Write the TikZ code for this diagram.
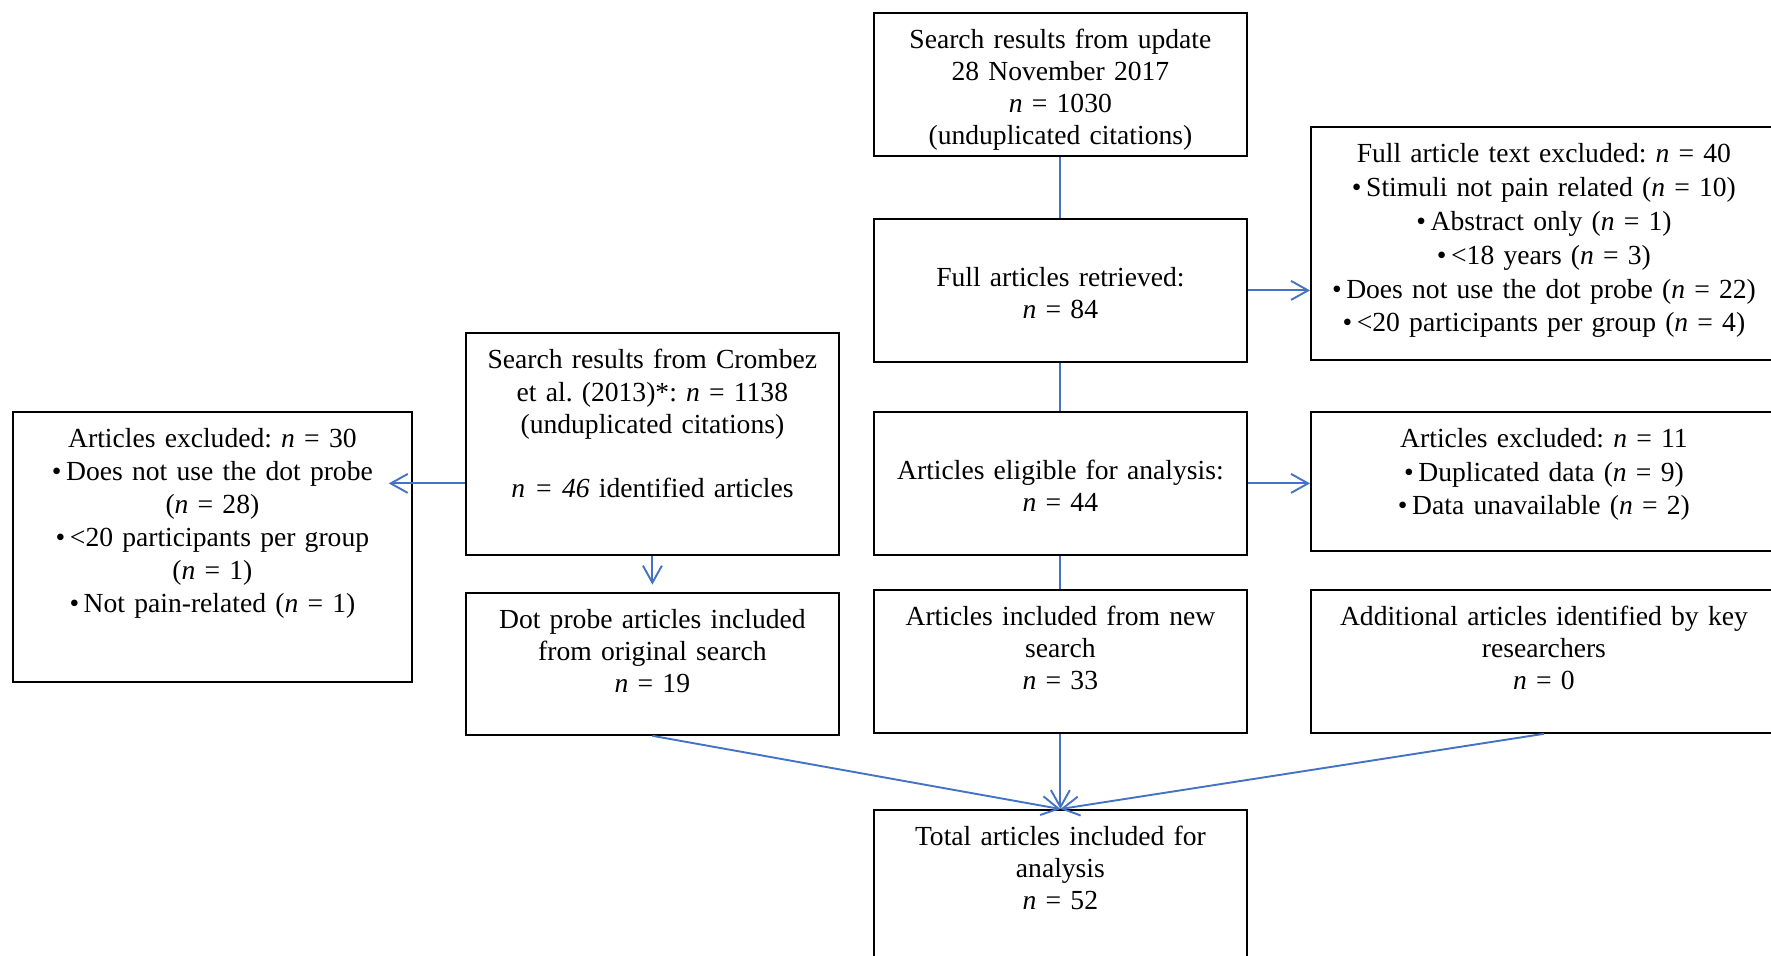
\documentclass[tikz,border=0pt]{standalone}
\usepackage{fontspec}
\setmainfont{Liberation Serif}
\usetikzlibrary{arrows.meta}
\frenchspacing

\definecolor{linkblue}{RGB}{68,114,196}

\tikzset{every picture/.style={line width=0.75pt}}
\tikzset{
  box/.style={draw=black, line width=0.9pt, anchor=north west, inner xsep=2pt, inner ysep=0pt,
    align=center, text height=18pt, font=\fontsize{13.8}{15.9}\selectfont},
  midbox/.style={box, text width=182.5pt},
  sidebox/.style={box, text width=229pt},
  link/.style={draw=linkblue, line width=0.95pt},
  arr/.style={link, -{Straight Barb[length=8.5pt,width=9.5pt]}}
}

\begin{document}
\begin{tikzpicture}[x=0.5pt,y=0.5pt,yscale=-1,xscale=1]
	\useasboundingbox (0,0) rectangle (1771,955);

	%Shape: Rectangle [update search]
	\node[midbox, text depth=53.5pt] (upd) at (873,12) {Search results from update\\ 28 November 2017\\ \textit{n} = 1030\\ (unduplicated citations)};
	%Shape: Rectangle [retrieved]
	\node[midbox, text height=34pt, text depth=37.5pt] (ret) at (873,218) {Full articles retrieved:\\ \textit{n} = 84};
	%Shape: Rectangle [full text excluded]
	\node[sidebox, text depth=98.5pt, font=\fontsize{13.8}{16.9}\selectfont] (ftx) at (1310,126) {Full article text excluded: \textit{n} = 40\\ •\,Stimuli not pain related (\textit{n} = 10)\\ •\,Abstract only (\textit{n} = 1)\\ •\,<18 years (\textit{n} = 3)\\ •\,Does not use the dot probe (\textit{n} = 22)\\ •\,<20 participants per group (\textit{n} = 4)};
	%Shape: Rectangle [crombez]
	\node[midbox, text depth=93pt, font=\fontsize{13.8}{16.1}\selectfont] (crb) at (465,332) {Search results from Crombez\\ et al. (2013)*: \textit{n} = 1138\\ (unduplicated citations)\\[16.1pt] \textit{n = 46} identified articles};
	%Shape: Rectangle [left excluded]
	\node[box, text width=195.5pt, text depth=117pt, font=\fontsize{13.8}{16.5}\selectfont] (lex) at (12,411) {Articles excluded: \textit{n} = 30\\ •\,Does not use the dot probe\\ (\textit{n} = 28)\\ •\,<20 participants per group\\ (\textit{n} = 1)\\ •\,Not pain-related (\textit{n} = 1)};
	%Shape: Rectangle [eligible]
	\node[midbox, text height=34pt, text depth=37.5pt] (elg) at (873,411) {Articles eligible for analysis:\\ \textit{n} = 44};
	%Shape: Rectangle [excluded 11]
	\node[sidebox, text depth=51.5pt, font=\fontsize{13.8}{16.7}\selectfont] (exc) at (1310,411) {Articles excluded: \textit{n} = 11\\ •\,Duplicated data (\textit{n} = 9)\\ •\,Data unavailable (\textit{n} = 2)};
	%Shape: Rectangle [dot probe]
	\node[midbox, text depth=53pt] (dot) at (465,592) {Dot probe articles included\\ from original search\\ \textit{n} = 19};
	%Shape: Rectangle [new search]
	\node[midbox, text depth=53.5pt] (new) at (873,589) {Articles included from new\\ search\\ \textit{n} = 33};
	%Shape: Rectangle [additional]
	\node[sidebox, text depth=53.5pt] (add) at (1310,589) {Additional articles identified by key\\ researchers\\ \textit{n} = 0};
	%Shape: Rectangle [total]
	\node[midbox, text depth=62pt] (tot) at (873,809) {Total articles included for\\ analysis\\ \textit{n} = 52};

	%Straight Lines
	\draw[link] (upd) -- (ret);
	\draw[link] (ret) -- (elg);
	\draw[link] (elg) -- (new);
	%Arrows
	\draw[arr] (ret) -- (ret -| ftx.west);
	\draw[arr] (elg) -- (elg -| exc.west);
	\draw[arr, shorten >=-12pt] (crb.west |- elg) -- (lex.east |- elg);
	\draw[arr, shorten >=3.7pt] (crb) -- (dot);
	\draw[arr] (dot.south) -- (tot.north);
	\draw[arr] (new) -- (tot);
	\draw[arr] (add.south) -- (tot.north);

\end{tikzpicture}
\end{document}
